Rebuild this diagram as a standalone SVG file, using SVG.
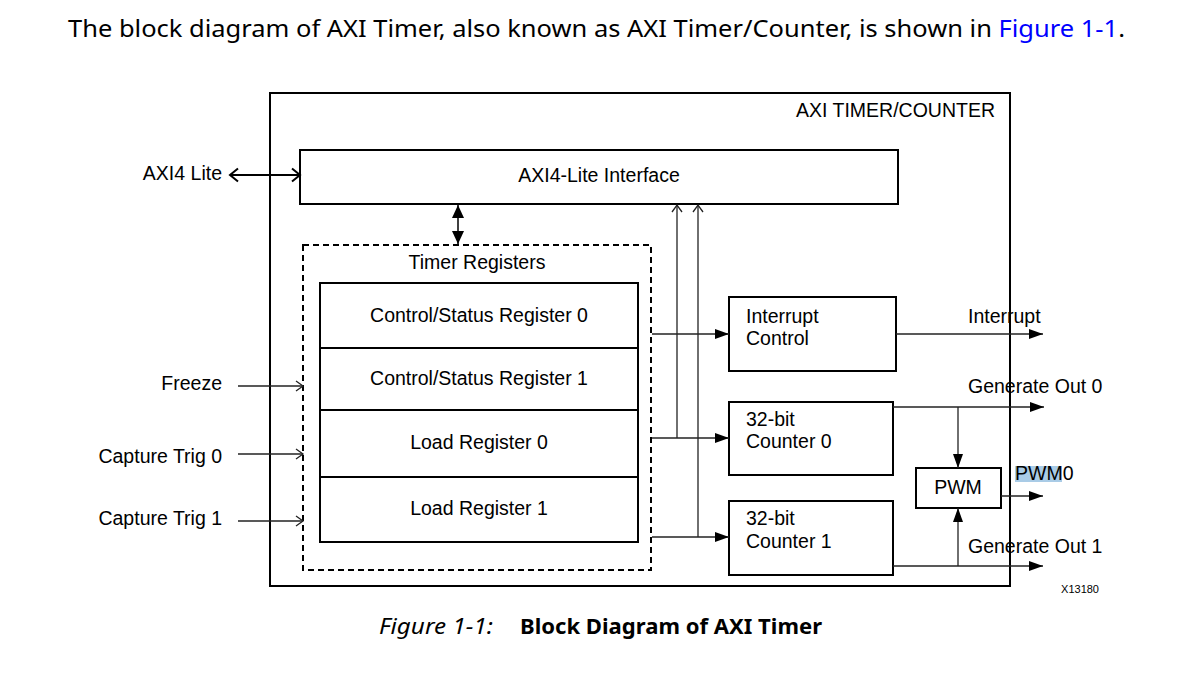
<svg xmlns="http://www.w3.org/2000/svg" width="1202" height="695" viewBox="0 0 1202 695">
<defs>
<style>
.t{font-family:"Liberation Sans",Arial,sans-serif;font-size:19.5px;fill:#000}
.box{fill:#fff;stroke:#000;stroke-width:2}
.c{fill:none;stroke:#222;stroke-width:1.3}
.doc{font-family:"Noto Sans","Open Sans",sans-serif;fill:#000}
</style>
<marker id="fa" markerUnits="userSpaceOnUse" markerWidth="16" markerHeight="12" refX="14" refY="5" orient="auto-start-reverse" viewBox="0 0 16 12">
<path d="M0,0 L14,5 L0,10 z" fill="#000"/>
</marker>
<marker id="oa" markerUnits="userSpaceOnUse" markerWidth="12" markerHeight="12" refX="9" refY="6" orient="auto-start-reverse" viewBox="0 0 12 12">
<path d="M2,1 L9,6 L2,11" fill="none" stroke="#222" stroke-width="1.3"/>
</marker>
<marker id="ob" markerUnits="userSpaceOnUse" markerWidth="14" markerHeight="16" refX="10" refY="8" orient="auto-start-reverse" viewBox="0 0 14 16">
<path d="M2,1.5 L10,8 L2,14.5" fill="none" stroke="#000" stroke-width="2"/>
</marker>
<marker id="va" markerUnits="userSpaceOnUse" markerWidth="16" markerHeight="14" refX="13" refY="6" orient="auto-start-reverse" viewBox="0 0 16 14">
<path d="M0,0 L13,6 L0,12 z" fill="#000"/>
</marker>
</defs>
<rect width="1202" height="695" fill="#fff"/>

<text class="doc" x="68" y="37" font-size="23" textLength="1057" lengthAdjust="spacingAndGlyphs">The block diagram of AXI Timer, also known as AXI Timer/Counter, is shown in <tspan fill="#0000ff">Figure 1-1</tspan>.</text>

<g id="outer">
<rect x="270" y="93" width="740" height="493" fill="none" stroke="#000" stroke-width="2"/>
<text class="t" x="995" y="117" text-anchor="end">AXI TIMER/COUNTER</text>
</g>

<g id="axi-interface">
<rect class="box" x="300" y="150" width="598" height="54"/>
<text class="t" x="599" y="182" text-anchor="middle">AXI4-Lite Interface</text>
</g>

<g id="timer-registers">
<rect x="303" y="245" width="348" height="325" fill="none" stroke="#000" stroke-width="2" stroke-dasharray="6,4"/>
<text class="t" x="477" y="269" text-anchor="middle">Timer Registers</text>
</g>

<g id="reg-csr0">
<rect class="box" x="320" y="283" width="318" height="65"/>
<text class="t" x="479" y="322" text-anchor="middle">Control/Status Register 0</text>
</g>
<g id="reg-csr1">
<rect class="box" x="320" y="348" width="318" height="62"/>
<text class="t" x="479" y="385" text-anchor="middle">Control/Status Register 1</text>
</g>
<g id="reg-load0">
<rect class="box" x="320" y="410" width="318" height="67"/>
<text class="t" x="479" y="449" text-anchor="middle">Load Register 0</text>
</g>
<g id="reg-load1">
<rect class="box" x="320" y="477" width="318" height="65"/>
<text class="t" x="479" y="515" text-anchor="middle">Load Register 1</text>
</g>

<g id="interrupt-control">
<rect class="box" x="729" y="297" width="167" height="74"/>
<text class="t" x="746" y="323">Interrupt</text>
<text class="t" x="746" y="345">Control</text>
</g>

<g id="counter0">
<rect class="box" x="729" y="402" width="164" height="73"/>
<text class="t" x="746" y="426">32-bit</text>
<text class="t" x="746" y="448">Counter 0</text>
</g>

<g id="counter1">
<rect class="box" x="729" y="501" width="164" height="74"/>
<text class="t" x="746" y="525">32-bit</text>
<text class="t" x="746" y="548">Counter 1</text>
</g>

<g id="pwm">
<rect class="box" x="916" y="468" width="85" height="40"/>
<text class="t" x="958" y="494" text-anchor="middle">PWM</text>
</g>

<g id="labels">
<text class="t" x="222" y="180" text-anchor="end">AXI4 Lite</text>
<text class="t" x="222" y="390" text-anchor="end">Freeze</text>
<text class="t" x="222" y="463" text-anchor="end">Capture Trig 0</text>
<text class="t" x="222" y="525" text-anchor="end">Capture Trig 1</text>
<text class="t" x="968" y="323">Interrupt</text>
<text class="t" x="968" y="393">Generate Out 0</text>
<rect x="1015" y="466" width="47" height="16" fill="#a9cbe6"/>
<text class="t" x="1015" y="480">PWM0</text>
<text class="t" x="968" y="553">Generate Out 1</text>
<text x="1099" y="593" text-anchor="end" font-family="Liberation Sans,Arial,sans-serif" font-size="11">X13180</text>
</g>

<g id="connectors">
<line x1="230" y1="175" x2="300" y2="175" stroke="#000" stroke-width="2" marker-start="url(#ob)" marker-end="url(#ob)"/>
<line x1="458" y1="205" x2="458" y2="244" stroke="#000" stroke-width="1.5" marker-start="url(#va)" marker-end="url(#va)"/>
<line class="c" x1="238" y1="386" x2="303" y2="386" marker-end="url(#oa)"/>
<line class="c" x1="238" y1="454" x2="303" y2="454" marker-end="url(#oa)"/>
<line class="c" x1="238" y1="521" x2="303" y2="521" marker-end="url(#oa)"/>
<line class="c" x1="652" y1="334" x2="729" y2="334" marker-end="url(#fa)"/>
<line class="c" x1="652" y1="438" x2="729" y2="438" marker-end="url(#fa)"/>
<line class="c" x1="652" y1="537" x2="729" y2="537" marker-end="url(#fa)"/>
<line class="c" x1="677" y1="438" x2="677" y2="205" marker-end="url(#oa)"/>
<line class="c" x1="698" y1="537" x2="698" y2="205" marker-end="url(#oa)"/>
<line class="c" x1="896" y1="334" x2="1043" y2="334" marker-end="url(#fa)"/>
<line class="c" x1="893" y1="407" x2="1044" y2="407" marker-end="url(#fa)"/>
<line class="c" x1="958" y1="407" x2="958" y2="468" marker-end="url(#fa)"/>
<line class="c" x1="1001" y1="496" x2="1043" y2="496" marker-end="url(#fa)"/>
<line class="c" x1="893" y1="566" x2="1043" y2="566" marker-end="url(#fa)"/>
<line class="c" x1="958" y1="566" x2="958" y2="508" marker-end="url(#fa)"/>
</g>

<g id="caption">
<text class="doc" x="379" y="634" font-size="21" font-style="italic" textLength="114" lengthAdjust="spacingAndGlyphs">Figure 1-1:</text>
<text class="doc" x="520" y="634" font-size="21" font-weight="bold" textLength="302" lengthAdjust="spacingAndGlyphs">Block Diagram of AXI Timer</text>
</g>
</svg>
